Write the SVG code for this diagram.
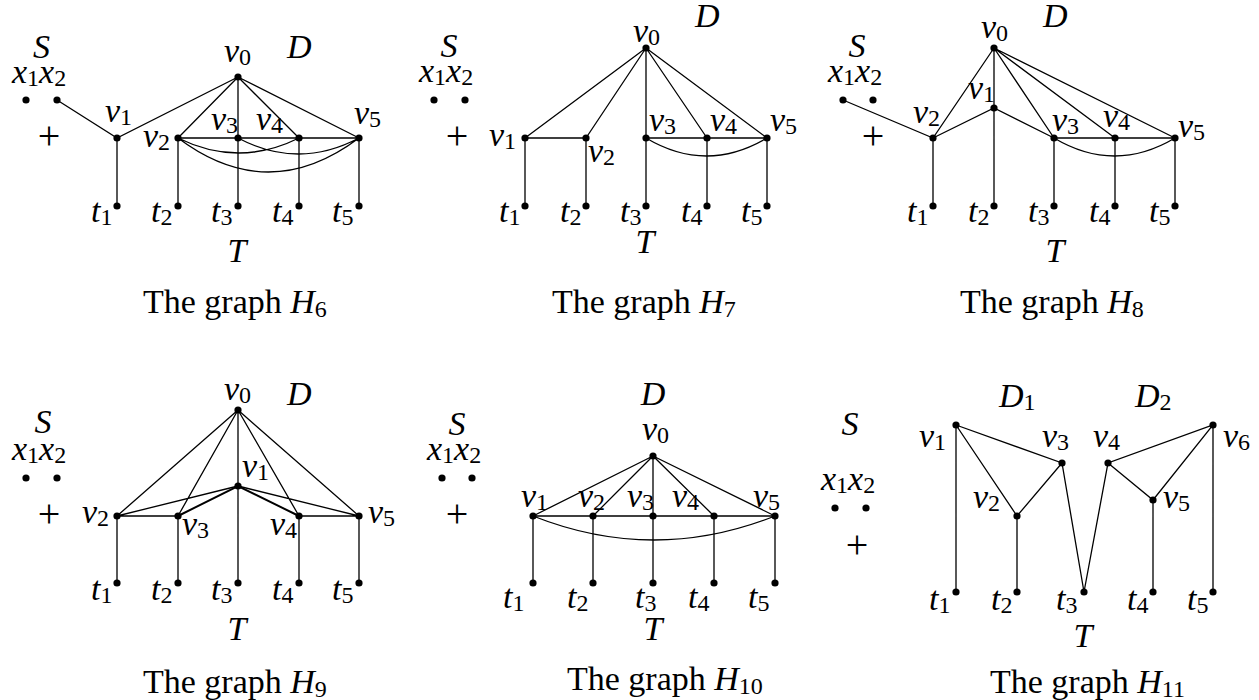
<svg xmlns="http://www.w3.org/2000/svg" width="1259" height="700" viewBox="0 0 1259 700">
<style>
.e{stroke:#000;stroke-width:1.3;fill:none}
.e2{stroke:#000;stroke-width:2;fill:none}
circle{fill:#000}
text{font-family:"Liberation Serif","Times New Roman",serif;font-size:34px;fill:#000}
.m{font-style:italic}
.s{font-style:normal;font-size:24px}
.p{font-size:40px;text-anchor:middle}
.mid{text-anchor:middle}
</style>
<rect width="1259" height="700" fill="#fff"/>

<!-- ===== H6 ===== -->
<g id="h6">
<g id="h6-edges">
<path class="e" d="M57,100L117,138L238,77M238,77L178,138M238,77L238,206M238,77L299,138M238,77L359,138M178,138L359,138M117,138L117,206M178,138L178,206M299,138L299,206M359,138L359,206"/>
<path class="e" d="M178,138Q238.5,168 299,138M238,138Q298.5,170 359,138M178,138Q268.5,206 359,138"/>
</g>
<g id="h6-S"><text class="m" x="33" y="58">S</text><text class="m" x="12" y="83">x<tspan class="s" dy="3">1</tspan><tspan dy="-3">x</tspan><tspan class="s" dy="3">2</tspan></text><circle cx="26" cy="100" r="3.6"/><circle cx="57" cy="100" r="3.6"/><text class="p" x="49" y="149">+</text></g>
<g id="h6-v0"><circle cx="238" cy="77" r="3.6"/><text class="m" x="224" y="62">v<tspan class="s" dy="3">0</tspan></text></g>
<g id="h6-D"><text class="m" x="287" y="58">D</text></g>
<g id="h6-v1"><circle cx="117" cy="138" r="3.6"/><text class="m" x="105" y="122">v<tspan class="s" dy="3">1</tspan></text></g>
<g id="h6-v2"><circle cx="178" cy="138" r="3.6"/><text class="m" x="143" y="147">v<tspan class="s" dy="3">2</tspan></text></g>
<g id="h6-v3"><circle cx="238" cy="138" r="3.6"/><text class="m" x="211" y="130">v<tspan class="s" dy="3">3</tspan></text></g>
<g id="h6-v4"><circle cx="299" cy="138" r="3.6"/><text class="m" x="256" y="130">v<tspan class="s" dy="3">4</tspan></text></g>
<g id="h6-v5"><circle cx="359" cy="138" r="3.6"/><text class="m" x="354" y="124">v<tspan class="s" dy="3">5</tspan></text></g>
<g id="h6-t1"><circle cx="117" cy="206" r="3.6"/><text class="m" x="91" y="222">t<tspan class="s" dy="3">1</tspan></text></g>
<g id="h6-t2"><circle cx="178" cy="206" r="3.6"/><text class="m" x="151" y="222">t<tspan class="s" dy="3">2</tspan></text></g>
<g id="h6-t3"><circle cx="238" cy="206" r="3.6"/><text class="m" x="211" y="222">t<tspan class="s" dy="3">3</tspan></text></g>
<g id="h6-t4"><circle cx="299" cy="206" r="3.6"/><text class="m" x="272" y="222">t<tspan class="s" dy="3">4</tspan></text></g>
<g id="h6-t5"><circle cx="359" cy="206" r="3.6"/><text class="m" x="332" y="222">t<tspan class="s" dy="3">5</tspan></text></g>
<g id="h6-T"><text class="m mid" x="237" y="262">T</text></g>
<g id="h6-cap"><text x="143" y="313">The graph <tspan class="m">H</tspan><tspan class="s" dy="4">6</tspan></text></g>
</g>

<!-- ===== H7 ===== -->
<g id="h7">
<g id="h7-edges">
<path class="e" d="M646,48L525,138M646,48L586,138M646,48L646,206M646,48L707,138M646,48L767,138M525,138L586,138M646,138L767,138M525,138L525,206M586,138L586,206M707,138L707,206M767,138L767,206"/>
<path class="e" d="M646,138Q706.5,174 767,138"/>
</g>
<g id="h7-S"><text class="m mid" x="449" y="57">S</text><text class="m" x="419" y="82">x<tspan class="s" dy="3">1</tspan><tspan dy="-3">x</tspan><tspan class="s" dy="3">2</tspan></text><circle cx="434" cy="100" r="3.6"/><circle cx="465" cy="100" r="3.6"/><text class="p" x="457" y="149">+</text></g>
<g id="h7-D"><text class="m" x="695" y="27">D</text></g>
<g id="h7-v0"><circle cx="646" cy="48" r="3.6"/><text class="m" x="633" y="42">v<tspan class="s" dy="3">0</tspan></text></g>
<g id="h7-v1"><circle cx="525" cy="138" r="3.6"/><text class="m" x="489" y="146">v<tspan class="s" dy="3">1</tspan></text></g>
<g id="h7-v2"><circle cx="586" cy="138" r="3.6"/><text class="m" x="588" y="162">v<tspan class="s" dy="3">2</tspan></text></g>
<g id="h7-v3"><circle cx="646" cy="138" r="3.6"/><text class="m" x="649" y="131">v<tspan class="s" dy="3">3</tspan></text></g>
<g id="h7-v4"><circle cx="707" cy="138" r="3.6"/><text class="m" x="710" y="131">v<tspan class="s" dy="3">4</tspan></text></g>
<g id="h7-v5"><circle cx="767" cy="138" r="3.6"/><text class="m" x="770" y="131">v<tspan class="s" dy="3">5</tspan></text></g>
<g id="h7-t1"><circle cx="525" cy="206" r="3.6"/><text class="m" x="499" y="222">t<tspan class="s" dy="3">1</tspan></text></g>
<g id="h7-t2"><circle cx="586" cy="206" r="3.6"/><text class="m" x="560" y="222">t<tspan class="s" dy="3">2</tspan></text></g>
<g id="h7-t3"><circle cx="646" cy="206" r="3.6"/><text class="m" x="620" y="222">t<tspan class="s" dy="3">3</tspan></text></g>
<g id="h7-t4"><circle cx="707" cy="206" r="3.6"/><text class="m" x="681" y="222">t<tspan class="s" dy="3">4</tspan></text></g>
<g id="h7-t5"><circle cx="767" cy="206" r="3.6"/><text class="m" x="741" y="222">t<tspan class="s" dy="3">5</tspan></text></g>
<g id="h7-T"><text class="m mid" x="645" y="253">T</text></g>
<g id="h7-cap"><text x="552" y="313">The graph <tspan class="m">H</tspan><tspan class="s" dy="4">7</tspan></text></g>
</g>

<!-- ===== H8 ===== -->
<g id="h8">
<g id="h8-edges">
<path class="e" d="M843,100L933,138L994,48L994,206M933,138L994,108L1054,138M994,48L1054,138M994,48L1115,138M994,48L1175,138M1054,138L1175,138M933,138L933,206M1054,138L1054,206M1115,138L1115,206M1175,138L1175,206"/>
<path class="e" d="M1054,138Q1114.5,174 1175,138"/>
</g>
<g id="h8-S"><text class="m mid" x="857" y="57">S</text><text class="m" x="828" y="82">x<tspan class="s" dy="3">1</tspan><tspan dy="-3">x</tspan><tspan class="s" dy="3">2</tspan></text><circle cx="843" cy="100" r="3.6"/><circle cx="873" cy="100" r="3.6"/><text class="p" x="873" y="149">+</text></g>
<g id="h8-D"><text class="m" x="1043" y="27">D</text></g>
<g id="h8-v0"><circle cx="994" cy="48" r="3.6"/><text class="m" x="981" y="38">v<tspan class="s" dy="3">0</tspan></text></g>
<g id="h8-v1"><circle cx="994" cy="108" r="3.6"/><text class="m" x="968" y="99">v<tspan class="s" dy="3">1</tspan></text></g>
<g id="h8-v2"><circle cx="933" cy="138" r="3.6"/><text class="m" x="913" y="123">v<tspan class="s" dy="3">2</tspan></text></g>
<g id="h8-v3"><circle cx="1054" cy="138" r="3.6"/><text class="m" x="1052" y="131">v<tspan class="s" dy="3">3</tspan></text></g>
<g id="h8-v4"><circle cx="1115" cy="138" r="3.6"/><text class="m" x="1103" y="127">v<tspan class="s" dy="3">4</tspan></text></g>
<g id="h8-v5"><circle cx="1175" cy="138" r="3.6"/><text class="m" x="1178" y="137">v<tspan class="s" dy="3">5</tspan></text></g>
<g id="h8-t1"><circle cx="933" cy="206" r="3.6"/><text class="m" x="907" y="222">t<tspan class="s" dy="3">1</tspan></text></g>
<g id="h8-t2"><circle cx="994" cy="206" r="3.6"/><text class="m" x="968" y="222">t<tspan class="s" dy="3">2</tspan></text></g>
<g id="h8-t3"><circle cx="1054" cy="206" r="3.6"/><text class="m" x="1028" y="222">t<tspan class="s" dy="3">3</tspan></text></g>
<g id="h8-t4"><circle cx="1115" cy="206" r="3.6"/><text class="m" x="1089" y="222">t<tspan class="s" dy="3">4</tspan></text></g>
<g id="h8-t5"><circle cx="1175" cy="206" r="3.6"/><text class="m" x="1149" y="222">t<tspan class="s" dy="3">5</tspan></text></g>
<g id="h8-T"><text class="m mid" x="1055" y="262">T</text></g>
<g id="h8-cap"><text x="960" y="313">The graph <tspan class="m">H</tspan><tspan class="s" dy="4">8</tspan></text></g>
</g>

<!-- ===== H9 ===== -->
<g id="h9">
<g id="h9-edges">
<path class="e" d="M238,410L117,516M238,410L178,516M238,410L238,583M238,410L299,516M238,410L359,516M238,486L117,516M238,486L359,516M117,516L178,516M299,516L359,516M117,516L117,583M178,516L178,583M299,516L299,583M359,516L359,583"/>
<path class="e2" d="M178,516L238,486L299,516"/>
</g>
<g id="h9-S"><text class="m mid" x="43" y="433">S</text><text class="m" x="12" y="460">x<tspan class="s" dy="3">1</tspan><tspan dy="-3">x</tspan><tspan class="s" dy="3">2</tspan></text><circle cx="26" cy="478" r="3.6"/><circle cx="57" cy="478" r="3.6"/><text class="p" x="49" y="527">+</text></g>
<g id="h9-v0"><circle cx="238" cy="410" r="3.6"/><text class="m" x="224" y="400">v<tspan class="s" dy="3">0</tspan></text></g>
<g id="h9-D"><text class="m" x="287" y="405">D</text></g>
<g id="h9-v1"><circle cx="238" cy="486" r="3.6"/><text class="m" x="242" y="477">v<tspan class="s" dy="3">1</tspan></text></g>
<g id="h9-v2"><circle cx="117" cy="516" r="3.6"/><text class="m" x="82" y="523">v<tspan class="s" dy="3">2</tspan></text></g>
<g id="h9-v3"><circle cx="178" cy="516" r="3.6"/><text class="m" x="182" y="535">v<tspan class="s" dy="3">3</tspan></text></g>
<g id="h9-v4"><circle cx="299" cy="516" r="3.6"/><text class="m" x="270" y="535">v<tspan class="s" dy="3">4</tspan></text></g>
<g id="h9-v5"><circle cx="359" cy="516" r="3.6"/><text class="m" x="368" y="523">v<tspan class="s" dy="3">5</tspan></text></g>
<g id="h9-t1"><circle cx="117" cy="583" r="3.6"/><text class="m" x="91" y="600">t<tspan class="s" dy="3">1</tspan></text></g>
<g id="h9-t2"><circle cx="178" cy="583" r="3.6"/><text class="m" x="151" y="600">t<tspan class="s" dy="3">2</tspan></text></g>
<g id="h9-t3"><circle cx="238" cy="583" r="3.6"/><text class="m" x="211" y="600">t<tspan class="s" dy="3">3</tspan></text></g>
<g id="h9-t4"><circle cx="299" cy="583" r="3.6"/><text class="m" x="272" y="600">t<tspan class="s" dy="3">4</tspan></text></g>
<g id="h9-t5"><circle cx="359" cy="583" r="3.6"/><text class="m" x="332" y="600">t<tspan class="s" dy="3">5</tspan></text></g>
<g id="h9-T"><text class="m mid" x="237" y="640">T</text></g>
<g id="h9-cap"><text x="143" y="693">The graph <tspan class="m">H</tspan><tspan class="s" dy="4">9</tspan></text></g>
</g>

<!-- ===== H10 ===== -->
<g id="h10">
<g id="h10-edges">
<path class="e" d="M653,456L533,516M653,456L593,516M653,456L653,583M653,456L714,516M653,456L775,516M533,516L775,516M533,516L533,583M593,516L593,583M714,516L714,583M775,516L775,583"/>
<path class="e" d="M533,516Q654,564 775,516"/>
</g>
<g id="h10-S"><text class="m mid" x="457" y="435">S</text><text class="m" x="427" y="460">x<tspan class="s" dy="3">1</tspan><tspan dy="-3">x</tspan><tspan class="s" dy="3">2</tspan></text><circle cx="442" cy="478" r="3.6"/><circle cx="472" cy="478" r="3.6"/><text class="p" x="457" y="527">+</text></g>
<g id="h10-D"><text class="m mid" x="653" y="405">D</text></g>
<g id="h10-v0"><circle cx="653" cy="456" r="3.6"/><text class="m" x="642" y="440">v<tspan class="s" dy="3">0</tspan></text></g>
<g id="h10-v1"><circle cx="533" cy="516" r="3.6"/><text class="m" x="521" y="507">v<tspan class="s" dy="3">1</tspan></text></g>
<g id="h10-v2"><circle cx="593" cy="516" r="3.6"/><text class="m" x="578" y="507">v<tspan class="s" dy="3">2</tspan></text></g>
<g id="h10-v3"><circle cx="653" cy="516" r="3.6"/><text class="m" x="627" y="507">v<tspan class="s" dy="3">3</tspan></text></g>
<g id="h10-v4"><circle cx="714" cy="516" r="3.6"/><text class="m" x="672" y="507">v<tspan class="s" dy="3">4</tspan></text></g>
<g id="h10-v5"><circle cx="775" cy="516" r="3.6"/><text class="m" x="753" y="507">v<tspan class="s" dy="3">5</tspan></text></g>
<g id="h10-t1"><circle cx="533" cy="583" r="3.6"/><text class="m" x="503" y="608">t<tspan class="s" dy="3">1</tspan></text></g>
<g id="h10-t2"><circle cx="593" cy="583" r="3.6"/><text class="m" x="567" y="608">t<tspan class="s" dy="3">2</tspan></text></g>
<g id="h10-t3"><circle cx="653" cy="583" r="3.6"/><text class="m" x="635" y="608">t<tspan class="s" dy="3">3</tspan></text></g>
<g id="h10-t4"><circle cx="714" cy="583" r="3.6"/><text class="m" x="688" y="608">t<tspan class="s" dy="3">4</tspan></text></g>
<g id="h10-t5"><circle cx="775" cy="583" r="3.6"/><text class="m" x="748" y="608">t<tspan class="s" dy="3">5</tspan></text></g>
<g id="h10-T"><text class="m mid" x="653" y="640">T</text></g>
<g id="h10-cap"><text x="567" y="690">The graph <tspan class="m">H</tspan><tspan class="s" dy="4">10</tspan></text></g>
</g>

<!-- ===== H11 ===== -->
<g id="h11">
<g id="h11-edges">
<path class="e" d="M956,425L956,592M956,425L1017,516L1062,463L956,425M1017,516L1017,592M1062,463L1084,592L1108,463L1213,425L1153,500L1108,463M1153,500L1153,592M1213,425L1213,592"/>
</g>
<g id="h11-S"><text class="m mid" x="850" y="435">S</text><text class="m" x="821" y="490">x<tspan class="s" dy="3">1</tspan><tspan dy="-3">x</tspan><tspan class="s" dy="3">2</tspan></text><circle cx="835" cy="508" r="3.6"/><circle cx="866" cy="508" r="3.6"/><text class="p" x="857" y="558">+</text></g>
<g id="h11-D1"><text class="m" x="999" y="407">D<tspan class="s" dy="3">1</tspan></text></g>
<g id="h11-D2"><text class="m" x="1135" y="407">D<tspan class="s" dy="3">2</tspan></text></g>
<g id="h11-v1"><circle cx="956" cy="425" r="3.6"/><text class="m" x="919" y="447">v<tspan class="s" dy="3">1</tspan></text></g>
<g id="h11-v2"><circle cx="1017" cy="516" r="3.6"/><text class="m" x="973" y="508">v<tspan class="s" dy="3">2</tspan></text></g>
<g id="h11-v3"><circle cx="1062" cy="463" r="3.6"/><text class="m" x="1042" y="447">v<tspan class="s" dy="3">3</tspan></text></g>
<g id="h11-v4"><circle cx="1108" cy="463" r="3.6"/><text class="m" x="1093" y="447">v<tspan class="s" dy="3">4</tspan></text></g>
<g id="h11-v5"><circle cx="1153" cy="500" r="3.6"/><text class="m" x="1163" y="508">v<tspan class="s" dy="3">5</tspan></text></g>
<g id="h11-v6"><circle cx="1213" cy="425" r="3.6"/><text class="m" x="1223" y="447">v<tspan class="s" dy="3">6</tspan></text></g>
<g id="h11-t1"><circle cx="956" cy="592" r="3.6"/><text class="m" x="929" y="610">t<tspan class="s" dy="3">1</tspan></text></g>
<g id="h11-t2"><circle cx="1017" cy="592" r="3.6"/><text class="m" x="991" y="610">t<tspan class="s" dy="3">2</tspan></text></g>
<g id="h11-t3"><circle cx="1084" cy="592" r="3.6"/><text class="m" x="1056" y="610">t<tspan class="s" dy="3">3</tspan></text></g>
<g id="h11-t4"><circle cx="1153" cy="592" r="3.6"/><text class="m" x="1127" y="610">t<tspan class="s" dy="3">4</tspan></text></g>
<g id="h11-t5"><circle cx="1213" cy="592" r="3.6"/><text class="m" x="1187" y="610">t<tspan class="s" dy="3">5</tspan></text></g>
<g id="h11-T"><text class="m mid" x="1083" y="647">T</text></g>
<g id="h11-cap"><text x="990" y="693">The graph <tspan class="m">H</tspan><tspan class="s" dy="4">11</tspan></text></g>
</g>
</svg>
